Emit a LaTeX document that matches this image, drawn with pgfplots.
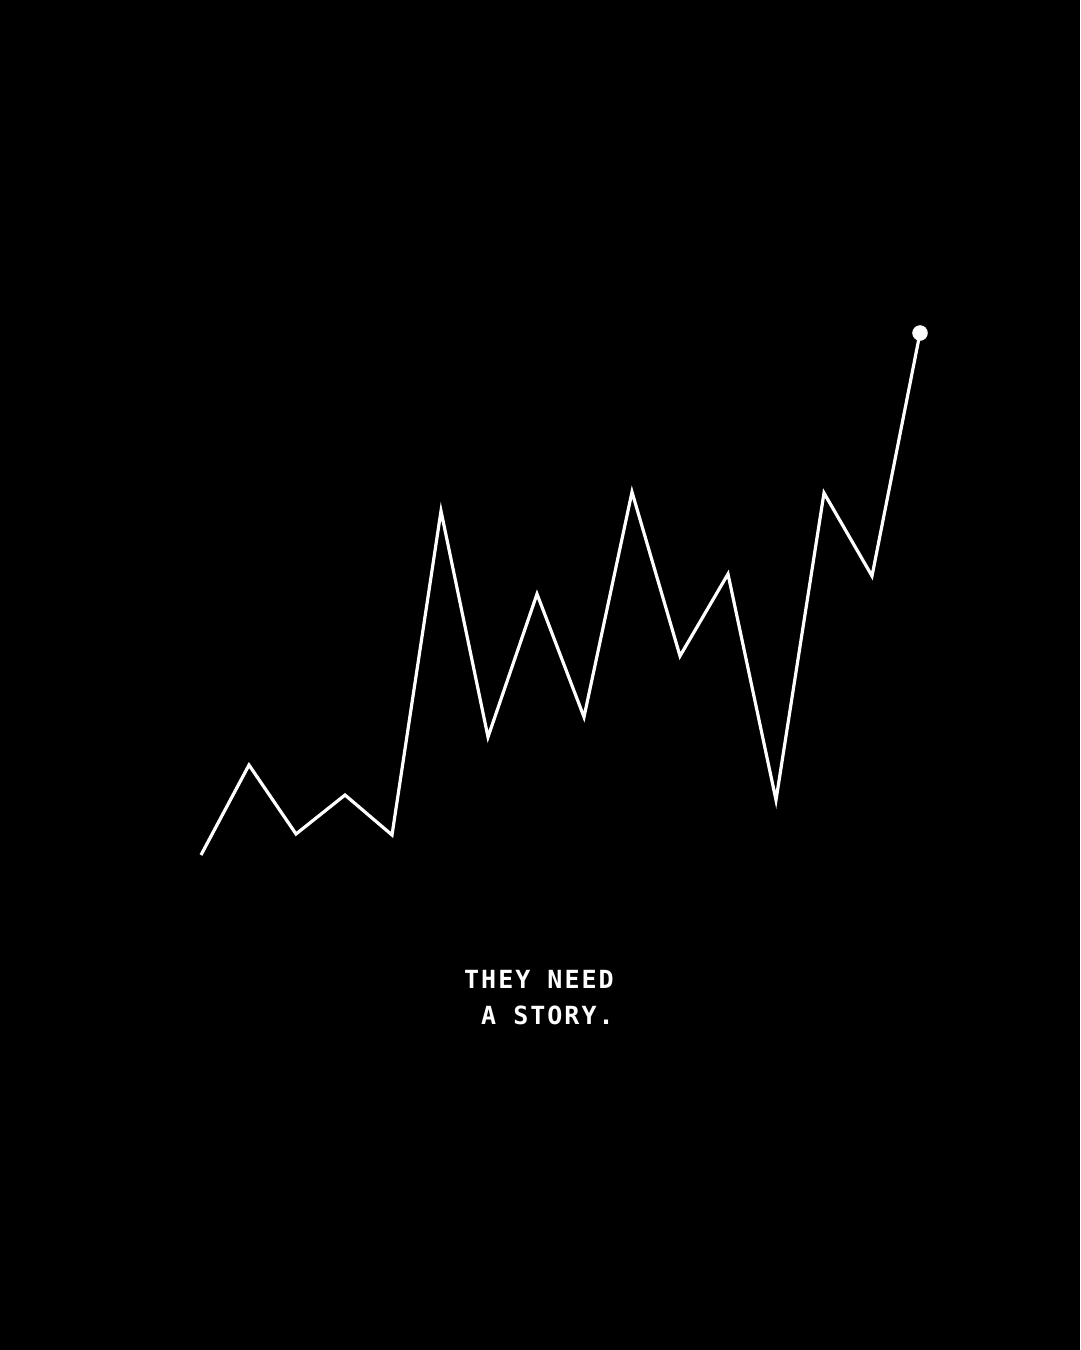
\documentclass[border=0pt]{standalone}
\usepackage{pgfplots}
\pgfplotsset{compat=1.18}
\usepackage{fontspec}
\newfontfamily\monofont[LetterSpace=8]{DejaVu Sans Mono}
\begin{document}
\begin{tikzpicture}
\fill[black] (0,0) rectangle (1080pt,1350pt);
\begin{axis}[
  at={(0,0)}, anchor=south west,
  scale only axis, width=1080pt, height=1350pt,
  xmin=0, xmax=1080, ymin=0, ymax=1350, y dir=reverse,
  hide axis, clip=false,
]
\addplot[white, line width=3.2pt, line join=miter, mark=none] coordinates {
(201,855) (249,765) (296,834) (345,795) (392,835) (441,511) (488,737) (537,594)
(584,717) (632,492) (680,656) (728,574) (776,800) (824,493) (872,576) (920,333)
};
\addplot[white, only marks, mark=*, mark size=7.5pt, mark options={fill=white, draw=white}] coordinates {(920,333)};
\node[anchor=base west, inner sep=0pt, text=white, font=\monofont\fontsize{25}{30}\selectfont\bfseries] at (axis cs:464,988) {THEY NEED};
\node[anchor=base west, inner sep=0pt, text=white, font=\monofont\fontsize{25}{30}\selectfont\bfseries] at (axis cs:481,1024) {A STORY.};
\end{axis}
\end{tikzpicture}
\end{document}
